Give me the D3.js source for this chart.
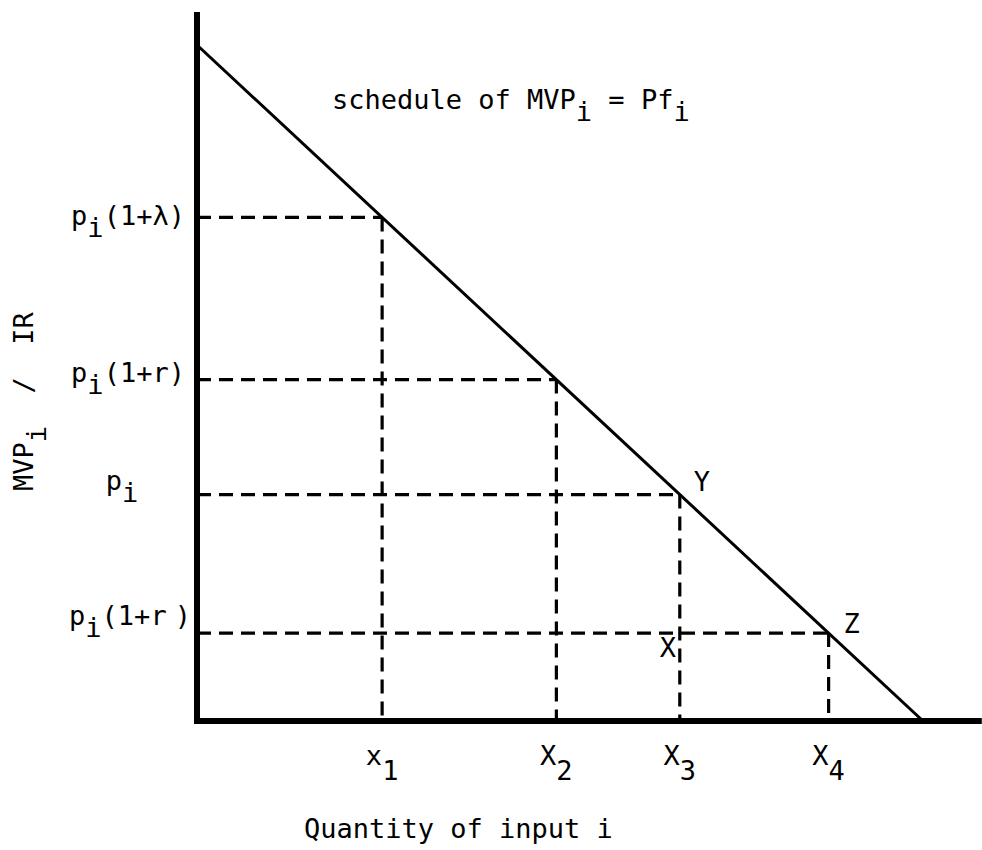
<!DOCTYPE html>
<html>
<head>
<meta charset="utf-8">
<script src="https://cdn.jsdelivr.net/npm/d3@7"></script>
<style>
  body { margin: 0; background: #fff; }
  svg { display: block; }
</style>
</head>
<body>
<svg id="chart" width="982" height="850"></svg>
<script>
// Schedule of marginal value product for input i (MVP_i = Pf_i) and
// the four price levels it is compared with.

// Straight MVP schedule: endpoints as (quantity, value)
const scheduleQuantity = [0, 100];
const scheduleValue = [100, 0];

// Price levels on the vertical axis and the quantities where the schedule meets them
const levelLabels = ["p_i(1+λ)", "p_i(1+r)", "p_i", "p_i(1+r )"];
const levelValues = [74.5, 50.5, 33.5, 13];
const quantityLabels = ["x_1", "X_2", "X_3", "X_4"];
const quantityValues = [25.5, 49.5, 66.5, 87];

// Lettered points
const pointNames = ["Y", "Z", "X"];
const pointQuantity = [66.5, 87, 66.5];
const pointValue = [33.5, 13, 13];

// Axis extents (same units as above)
const quantityMax = 108.1;
const valueMax = 104.9;

const titleText = "schedule of MVP_i = Pf_i";
const xTitle = "Quantity of input i";
const yTitle = "MVP_i  /  IR";

// ---- drawing ----
const svg = d3.select("#chart");
const FONT = "'DejaVu Sans Mono', 'Liberation Mono', monospace";
const FS = 27;

const x = d3.scaleLinear().domain([0, 100]).range([197, 923]);
const y = d3.scaleLinear().domain([0, 100]).range([721, 45]);

// Write a label, turning "_c" into a lowered character.
// A space can be drawn narrower than a full cell (narrowSpace px).
function richText(sel, str, sub, narrowSpace) {
  const parts = str.split(/_(.)/);
  let shift = 0;
  parts.forEach((p, i) => {
    const isSub = i % 2 === 1;
    if (!p) return;
    const target = isSub ? sub : 0;
    const pieces = narrowSpace == null ? [p] : p.split(" ");
    pieces.forEach((piece, k) => {
      const t = sel.append("tspan").attr("dy", target - shift).text(piece);
      shift = target;
      if (k > 0) t.attr("dx", narrowSpace);
    });
  });
  return sel;
}

// Dashed guides
const guides = svg.append("g")
  .attr("stroke", "#000")
  .attr("stroke-width", 3.2)
  .attr("stroke-dasharray", "14,8")
  .attr("fill", "none");

guides.selectAll("line.h")
  .data(levelValues)
  .join("line")
  .attr("class", "h")
  .attr("x1", x(0))
  .attr("x2", (d, i) => x(quantityValues[i]))
  .attr("y1", d => y(d))
  .attr("y2", d => y(d));

guides.selectAll("line.v")
  .data(quantityValues)
  .join("line")
  .attr("class", "v")
  .attr("x1", d => x(d))
  .attr("x2", d => x(d))
  .attr("y1", (d, i) => y(levelValues[i]))
  .attr("y2", y(0));

// MVP schedule
svg.append("line")
  .attr("x1", x(scheduleQuantity[0]))
  .attr("y1", y(scheduleValue[0]))
  .attr("x2", x(scheduleQuantity[1]))
  .attr("y2", y(scheduleValue[1]))
  .attr("stroke", "#000")
  .attr("stroke-width", 3);

// Axes
svg.append("line")
  .attr("x1", x(0)).attr("x2", x(0))
  .attr("y1", y(valueMax)).attr("y2", y(0) + 3)
  .attr("stroke", "#000").attr("stroke-width", 6);
svg.append("line")
  .attr("x1", x(0) - 3).attr("x2", x(quantityMax))
  .attr("y1", y(0)).attr("y2", y(0))
  .attr("stroke", "#000").attr("stroke-width", 6);

const text = svg.append("g")
  .attr("font-family", FONT)
  .attr("font-size", FS)
  .attr("fill", "#000");

// Price level labels (centre and baseline offsets relative to each guide)
const levelCenterX = [128, 128, 122, 130];
const levelBaseline = [8, 2, -5, -8];
text.selectAll("text.level")
  .data(levelLabels)
  .join("text")
  .attr("class", "level")
  .attr("x", (d, i) => levelCenterX[i])
  .attr("y", (d, i) => y(levelValues[i]) + levelBaseline[i])
  .attr("text-anchor", "middle")
  .each(function(d) { richText(d3.select(this), d, 12, 8); });

// Quantity labels under the axis
text.selectAll("text.qty")
  .data(quantityLabels)
  .join("text")
  .attr("class", "qty")
  .attr("x", (d, i) => x(quantityValues[i]))
  .attr("y", y(0) + 44)
  .attr("text-anchor", "middle")
  .each(function(d) { richText(d3.select(this), d, 15); });

// Point letters
const pointDx = [14, 15, -20];
const pointDy = [-4, 0, 24];
text.selectAll("text.pt")
  .data(pointNames)
  .join("text")
  .attr("class", "pt")
  .attr("x", (d, i) => x(pointQuantity[i]) + pointDx[i])
  .attr("y", (d, i) => y(pointValue[i]) + pointDy[i])
  .text(d => d);

// Title inside the plot
richText(text.append("text").attr("x", 332).attr("y", 109), titleText, 12);

// Axis titles
text.append("text")
  .attr("x", 304).attr("y", 838)
  .text(xTitle);

richText(
  text.append("text")
    .attr("transform", "translate(33,491) rotate(-90)")
    .attr("xml:space", "preserve")
    .style("white-space", "pre"),
  yTitle, 13);
</script>
</body>
</html>
